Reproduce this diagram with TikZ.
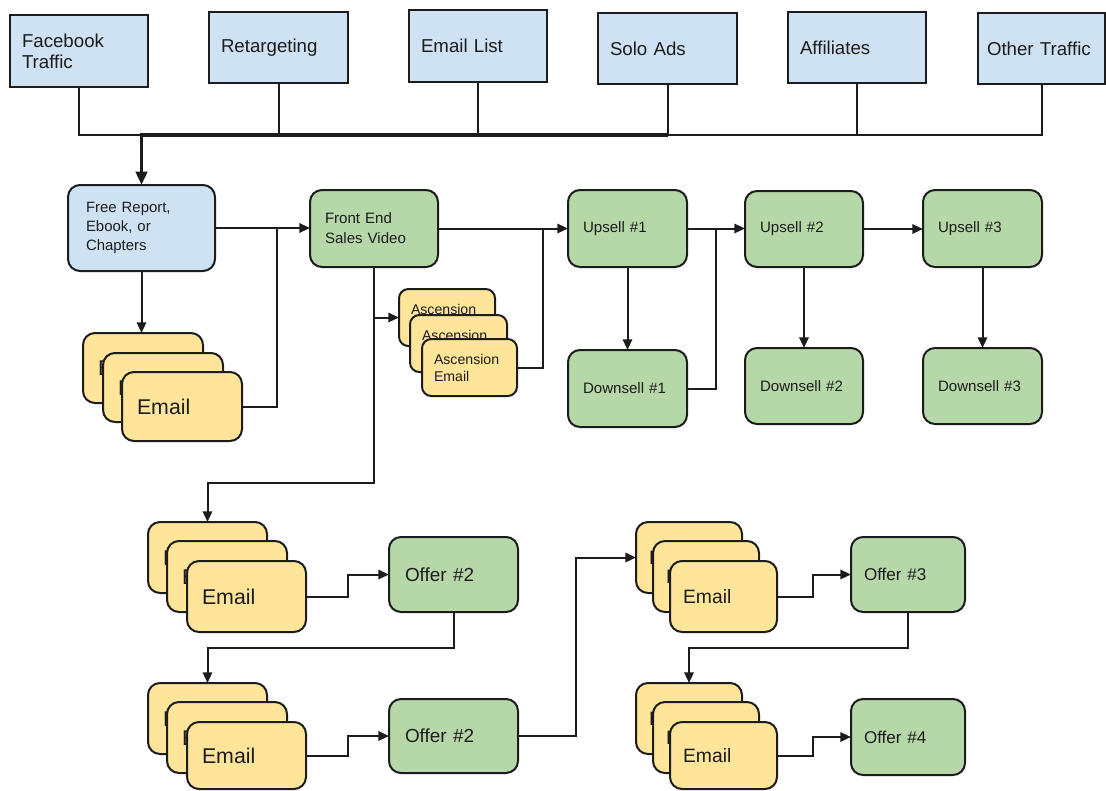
\documentclass[tikz,border=0pt]{standalone}
\usepackage{fontspec}
\setmainfont{Liberation Sans}
\usetikzlibrary{arrows.meta}

\definecolor{srcblue}{HTML}{CFE2F3}
\definecolor{offgreen}{HTML}{B6D7A8}
\definecolor{mailyellow}{HTML}{FFE599}
\definecolor{ink}{HTML}{1C1C1C}

\tikzset{
  % box of w x h pixels, text left-aligned with a pad of p pixels
  boxsize/.style n args={3}{
    anchor=north west, draw=ink, line width=1.5pt,
    inner ysep=0pt, outer sep=0pt,
    minimum height={#2*0.75pt},
    inner xsep={#3*0.75pt},
    text width={(#1-2*#3)*0.75pt},
    align=left, text=ink},
  source/.style n args={3}{boxsize={#1}{#2}{#3}, fill=srcblue,
    font=\fontsize{14}{15.8}\selectfont},
  lead/.style n args={3}{boxsize={#1}{#2}{#3}, fill=srcblue, rounded corners=9pt,
    font=\fontsize{11.2}{14.3}\selectfont},
  offer/.style n args={3}{boxsize={#1}{#2}{#3}, fill=offgreen, rounded corners=9pt,
    font=\fontsize{11.3}{15}\selectfont},
  bigoffer/.style n args={3}{offer={#1}{#2}{#3}, font=\fontsize{14.2}{17}\selectfont},
  midoffer/.style n args={3}{offer={#1}{#2}{#3}, font=\fontsize{12.8}{15}\selectfont},
  mail/.style n args={3}{boxsize={#1}{#2}{#3}, fill=mailyellow, rounded corners=9pt,
    font=\fontsize{16}{18}\selectfont},
  smallmail/.style n args={3}{mail={#1}{#2}{#3}, font=\fontsize{14.5}{17}\selectfont},
  ascmail/.style n args={3}{mail={#1}{#2}{#3}, rounded corners=7pt,
    font=\fontsize{10.6}{12.8}\selectfont},
  link/.style={draw=ink, line width=1.5pt},
  arr/.style={link, -{Triangle[length=8pt,width=7pt]}},
  busline/.style={draw=ink, line width=2.6pt, -{Triangle[length=10pt,width=8.5pt]}},
}

\begin{document}
\begin{tikzpicture}[x=0.75pt,y=-0.75pt]
\path[use as bounding box, fill=white] (0,0) rectangle (1106,790);

% traffic sources
\node[source={138}{72}{12}] (fb) at (10,15)  {Facebook\\Traffic};
\node[source={139}{71}{12}] (rt) at (209,12) {Retargeting};
\node[source={138}{72}{12}] (el) at (409,10) {Email List};
\node[source={139}{71}{12}] (sa) at (598,13) {Solo Ads};
\node[source={138}{71}{12}] (af) at (788,12) {Affiliates};
\node[source={127}{71}{9}]  (ot) at (978,13) {Other Traffic};

% lead magnet and front end
\node[lead={147}{86}{18}] (fr) at (68,185) {Free Report,\\Ebook, or\\Chapters};
\node[offer={128}{77}{15}] (fe) at (310,190) {Front End\\Sales Video};

% email follow-up under the lead magnet
\node[mail={120}{70}{15}] (e1a) at (83,333)  {Email};
\node[mail={120}{69}{15}] (e1b) at (103,353) {Email};
\node[mail={120}{69}{15}] (e1c) at (122,372) {Email};

% ascension emails (only the top line of the back cards is visible)
\node[ascmail={96}{57}{12}] (asA) at (399,289) {Ascension\\\phantom{Email}};
\node[ascmail={97}{57}{12}] (asB) at (410,315) {Ascension\\\phantom{Email}};
\node[ascmail={95}{57}{12}] (asC) at (422,339) {Ascension\\Email};

% upsells and downsells
\node[offer={119}{77}{15}] (up1) at (568,190) {Upsell \#1};
\node[offer={119}{77}{15}] (dn1) at (568,350) {Downsell \#1};
\node[offer={118}{76}{15}] (up2) at (745,191) {Upsell \#2};
\node[offer={118}{76}{15}] (dn2) at (745,348) {Downsell \#2};
\node[offer={119}{77}{15}] (up3) at (923,190) {Upsell \#3};
\node[offer={119}{76}{15}] (dn3) at (923,348) {Downsell \#3};

% follow-up sequences, left column
\node[mail={119}{71}{15}] (e2a) at (148,522) {Email};
\node[mail={120}{71}{15}] (e2b) at (167,541) {Email};
\node[mail={119}{71}{15}] (e2c) at (187,561) {Email};
\node[bigoffer={129}{75}{16}] (of2a) at (389,537) {Offer \#2};

\node[mail={119}{71}{15}] (e3a) at (148,683) {Email};
\node[mail={120}{71}{15}] (e3b) at (167,702) {Email};
\node[mail={119}{67}{15}] (e3c) at (187,722) {Email};
\node[bigoffer={129}{74}{16}] (of2b) at (389,699) {Offer \#2};

% follow-up sequences, right column
\node[smallmail={106}{71}{13}] (e4a) at (636,522) {Email};
\node[smallmail={106}{71}{13}] (e4b) at (653,541) {Email};
\node[smallmail={107}{71}{13}] (e4c) at (670,561) {Email};
\node[midoffer={114}{75}{13}] (of3) at (851,537) {Offer \#3};

\node[smallmail={106}{71}{13}] (e5a) at (636,683) {Email};
\node[smallmail={106}{71}{13}] (e5b) at (653,702) {Email};
\node[smallmail={107}{67}{13}] (e5c) at (670,722) {Email};
\node[midoffer={114}{76}{13}] (of4) at (851,699) {Offer \#4};

% traffic bus into the lead magnet
\coordinate (bus) at (0,135);
\draw[link] (fb.south) |- (ot.south |- bus) -- (ot.south);
\foreach \n in {rt,el,sa,af} \draw[link] (\n.south) -- (\n.south |- bus);
\draw[busline] (sa.south |- bus) -| (fr.north);

% main funnel
\coordinate (j1) at (277,0);
\coordinate (j2) at (543,0);
\coordinate (j3) at (716,0);
\coordinate (r1) at (0,483);
\coordinate (r2) at (0,648);

\draw[arr] (fr.east) -- (fr.east -| fe.west);
\draw[arr] (fr.south) -- (fr.south |- e1a.north);
\draw[link] (e1c.east) -| (j1 |- fr.east);

\draw[arr] (fe.south |- asA.west) -- (asA.west);
\draw[arr] (fe.south) |- (e2a.north |- r1) -- (e2a.north);
\draw[arr] (fe.east) -- (fe.east -| up1.west);
\draw[link] (asC.east) -| (j2 |- fe.east);

\draw[arr] (up1.south) -- (up1.south |- dn1.north);
\draw[arr] (up1.east) -- (up1.east -| up2.west);
\draw[link] (dn1.east) -| (j3 |- up1.east);
\draw[arr] (up2.east) -- (up2.east -| up3.west);
\draw[arr] (up2.south) -- (up2.south |- dn2.north);
\draw[arr] (up3.south) -- (up3.south |- dn3.north);

% follow-up chains
\draw[arr] (e2c.east) -- ++(42,0) |- (of2a.west);
\draw[arr] (of2a.south) |- (e3a.north |- r2) -- (e3a.north);
\draw[arr] (e3c.east) -- ++(42,0) |- (of2b.west);
\draw[arr] (of2b.east) -- ++(58,0) |- (e4a.west);
\draw[arr] (e4c.east) -- ++(36,0) |- (of3.west);
\draw[arr] (of3.south) |- (e5a.north |- r2) -- (e5a.north);
\draw[arr] (e5c.east) -- ++(36,0) |- (of4.west);
\end{tikzpicture}
\end{document}
